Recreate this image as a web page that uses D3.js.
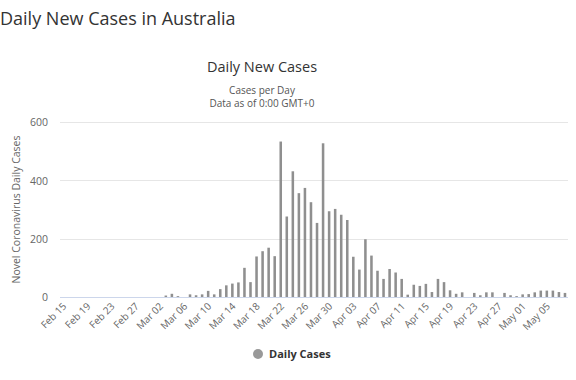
<!DOCTYPE html>
<html>
<head>
<meta charset="utf-8">
<script src="https://cdn.jsdelivr.net/npm/d3@7"></script>
<style>
  html, body { margin: 0; padding: 0; background: #fff; }
  svg { display: block; font-family: "Open Sans", "DejaVu Sans", sans-serif; }
</style>
</head>
<body>
<svg id="chart" width="576" height="380"></svg>
<script>
// ---- data ----
const startDate = "2020-02-15";
const dailyCases = [
  // Feb 15 - Mar 2
  0,0,0,0,0,0,0,0,0,0,0,0,0,0,0,0,0,
  // Mar 3 - Mar 31
  5,11,3,0,9,6,9,21,9,27,40,46,50,100,51,139,157,169,140,533,276,431,356,374,325,254,527,294,302,
  // Apr 1 - Apr 30
  282,264,138,94,198,142,90,62,96,84,62,8,42,38,45,17,62,51,23,11,16,0,14,6,16,16,0,14,6,3,
  // May 1 - May 8
  9,10,16,22,22,22,17,14
];
const yTicks = [0, 200, 400, 600];
const tickEvery = 4;
const pageTitle = "Daily New Cases in Australia";
const chartTitle = "Daily New Cases";
const subtitleLines = ["Cases per Day", "Data as of 0:00 GMT+0"];
const yAxisTitle = "Novel Coronavirus Daily Cases";
const seriesName = "Daily Cases";

// ---- build ----
const parse = d3.utcParse("%Y-%m-%d");
const fmt = d3.utcFormat("%b %d");
const d0 = parse(startDate);
const data = dailyCases.map((v, i) => ({ date: d3.utcDay.offset(d0, i), value: v }));

const svg = d3.select("#chart");
const margin = { left: 60, right: 8, top: 122, bottom: 83 };
const W = 576, H = 380;

const x = d3.scaleBand()
  .domain(data.map(d => fmt(d.date)))
  .range([margin.left, W - margin.right])
  .paddingInner(0.58).paddingOuter(0.29);
const y = d3.scaleLinear().domain([0, 600]).range([H - margin.bottom, margin.top]);

// page title
svg.append("text").attr("x", 0).attr("y", 25)
  .attr("font-size", 18).attr("fill", "#333").text(pageTitle);

// chart title & subtitle
svg.append("text").attr("x", 262).attr("y", 72).attr("text-anchor", "middle")
  .attr("font-size", 14.5).attr("fill", "#333").text(chartTitle);
subtitleLines.forEach((t, i) => {
  svg.append("text").attr("x", 262).attr("y", 94 + i * 12.5).attr("text-anchor", "middle")
    .attr("font-size", 10).attr("fill", "#555").text(t);
});

// gridlines
const gy = svg.append("g");
gy.selectAll("line").data(yTicks.filter(t => t > 0)).join("line")
  .attr("x1", margin.left).attr("x2", W - margin.right)
  .attr("y1", d => Math.round(y(d)) + 0.5).attr("y2", d => Math.round(y(d)) + 0.5)
  .attr("stroke", "#e6e6e6").attr("stroke-width", 1);

// y axis
const yAxis = svg.append("g").attr("transform", `translate(${margin.left - 12},0)`)
  .call(d3.axisLeft(y).tickValues(yTicks).tickSize(0).tickPadding(0));
yAxis.select(".domain").remove();
yAxis.selectAll("text").attr("font-size", 10.5).attr("fill", "#666")
  .attr("font-family", "\"Open Sans\", sans-serif").attr("dy", "0.35em");

// y axis title
svg.append("text")
  .attr("transform", `translate(20,${(y(0) + y(600)) / 2}) rotate(-90)`)
  .attr("text-anchor", "middle").attr("font-size", 10.5).attr("fill", "#666")
  .text(yAxisTitle);

// bars
svg.append("g").selectAll("rect").data(data).join("rect")
  .attr("x", d => x(fmt(d.date)))
  .attr("width", x.bandwidth())
  .attr("y", d => y(d.value))
  .attr("height", d => y(0) - y(d.value))
  .attr("fill", "#8f8f8f");

// x axis
const xTickVals = data.filter((d, i) => i % tickEvery === 0).map(d => fmt(d.date));
const xAxis = svg.append("g").attr("transform", `translate(0,${y(0)})`)
  .call(d3.axisBottom(x).tickValues(xTickVals).tickSize(0).tickPadding(0));
xAxis.select(".domain").attr("stroke", "#ccd6eb")
  .attr("d", `M${margin.left},0.5H${W - margin.right}`);
xAxis.selectAll("text")
  .attr("font-size", 10).attr("fill", "#666")
  .attr("font-family", "\"Open Sans\", sans-serif")
  .attr("text-anchor", "end")
  .attr("dy", 0)
  .attr("transform", function() {
    return `translate(4,10) rotate(-45)`;
  });

// legend
const lg = svg.append("g").attr("transform", "translate(258,354)");
lg.append("circle").attr("r", 5).attr("fill", "#999");
lg.append("text").attr("x", 11).attr("y", 4).attr("font-size", 11)
  .attr("font-weight", "bold").attr("fill", "#333").text(seriesName);
</script>
</body>
</html>
